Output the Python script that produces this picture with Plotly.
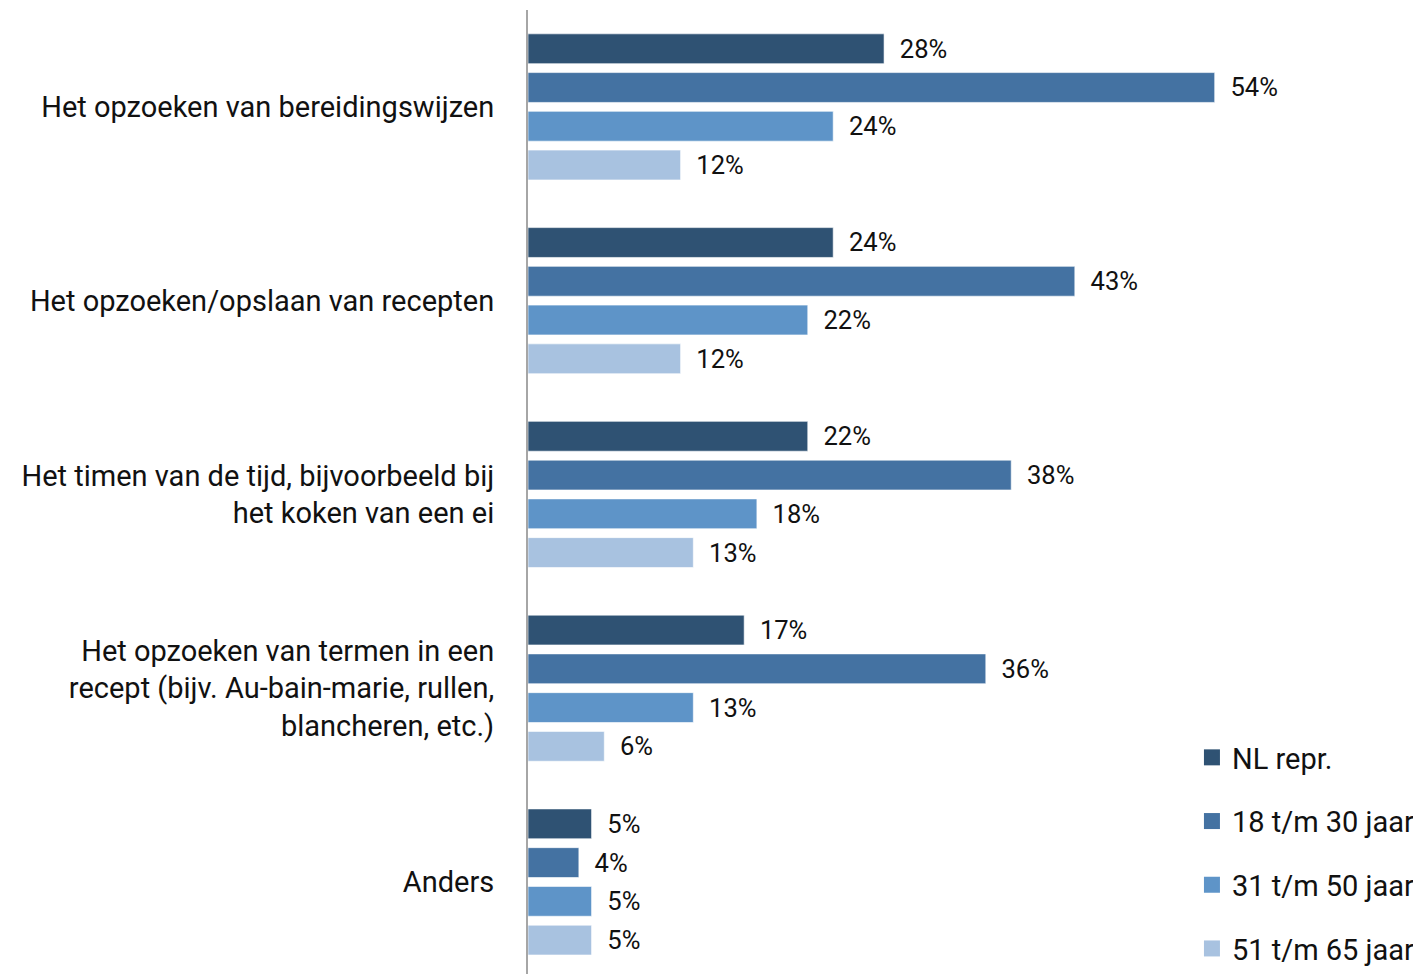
import plotly.graph_objects as go

categories = [
    "Het opzoeken van bereidingswijzen",
    "Het opzoeken/opslaan van recepten",
    "Het timen van de tijd, bijvoorbeeld bij<br>het koken van een ei",
    "Het opzoeken van termen in een<br>recept (bijv. Au-bain-marie, rullen,<br>blancheren, etc.)",
    "Anders",
]
series_names = ["NL repr.", "18 t/m 30 jaar", "31 t/m 50 jaar", "51 t/m 65 jaar"]
nl_repr = [28, 24, 22, 17, 5]
age_18_30 = [54, 43, 38, 36, 4]
age_31_50 = [24, 22, 18, 13, 5]
age_51_65 = [12, 12, 13, 6, 5]
colors = ["#2F5273", "#4472A2", "#5E94C8", "#A8C2E0"]

values = [nl_repr, age_18_30, age_31_50, age_51_65]
FONT = "Roboto"
TXT = "#111111"

fig = go.Figure()
for i, (name, vals) in enumerate(zip(series_names, values)):
    fig.add_trace(go.Bar(
        y=categories, x=vals, name=name, orientation="h",
        marker=dict(color=colors[i], line=dict(color="rgba(255,255,255,0.6)", width=1)),
        text=["\u00a0\u00a0" + f"{v}%" for v in vals],
        textposition="outside", cliponaxis=False,
        textfont=dict(family=FONT, size=30, color=TXT),
        showlegend=False,
    ))
# legend entries (square markers)
for i, name in enumerate(series_names):
    fig.add_trace(go.Scatter(
        x=[None], y=[None], mode="markers", name=name,
        marker=dict(symbol="square", size=18, color=colors[i]),
        legendgroup=f"g{i}", showlegend=True,
    ))

fig.update_layout(
    width=1413, height=966,
    margin=dict(l=520, r=130, t=2, b=0),
    barmode="group", bargap=0.2, bargroupgap=0.23,
    plot_bgcolor="white", paper_bgcolor="white",
    font=dict(family=FONT, size=30, color=TXT),
    showlegend=True,
    legend=dict(
        x=1.169, xanchor="right", y=0.0, yanchor="bottom",
        traceorder="grouped", tracegroupgap=23,
        font=dict(family=FONT, size=29, color=TXT),
        bgcolor="rgba(0,0,0,0)", itemwidth=30,
    ),
)
fig.update_xaxes(range=[0, 60], visible=False, showgrid=False, zeroline=False)
fig.update_yaxes(
    range=[4.475, -0.5], showgrid=False, zeroline=False, automargin=False,
    showline=True, linecolor="#A6A6A6", linewidth=2,
    ticks="", ticklabelstandoff=26,
    tickfont=dict(family=FONT, size=29, color=TXT),
)

fig.write_html("out.html")
